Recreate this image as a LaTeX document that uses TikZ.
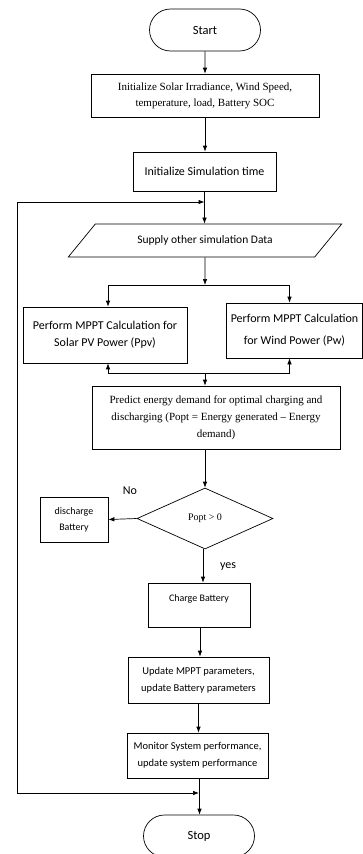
\documentclass[tikz,border=0pt]{standalone}
\usepackage{fontspec}
\setmainfont{Liberation Serif}
\newfontfamily\calfont{Carlito}
\usetikzlibrary{arrows.meta,shapes.geometric,shapes.misc,calc}

\begin{document}
\begin{tikzpicture}[x=1pt,y=-1pt,>={Latex[length=6pt,width=4.5pt]},line width=0.7pt,
  sbox/.style={draw,rectangle,align=center,inner sep=1pt,font=\calfont\fontsize{12}{17}\selectfont},
  smallbox/.style={sbox,font=\calfont\fontsize{10.5}{17}\selectfont},
  tbox/.style={draw,rectangle,align=center,inner sep=1pt,font=\fontsize{11}{17}\selectfont},
  term/.style={draw,rounded rectangle,minimum width=113,minimum height=42,inner sep=1pt,font=\calfont\fontsize{12.5}{15}\selectfont},
  lbl/.style={font=\calfont\fontsize{12}{14}\selectfont}]
\useasboundingbox (0,0) rectangle (363,854);
% terminals and process boxes
\node[term] (start) at (205,30) {Start};
\node[tbox,minimum width=228,minimum height=43,font=\fontsize{11}{16}\selectfont] (init) at (205,95.5)
  {Initialize Solar Irradiance, Wind Speed,\\temperature, load, Battery SOC};
\node[sbox,minimum width=143,minimum height=39] (simt) at (204.5,171.5) {Initialize Simulation time};
\node[draw,trapezium,trapezium left angle=35,trapezium right angle=145,trapezium stretches=true,
  minimum width=274,minimum height=33,inner sep=1pt,font=\calfont\fontsize{11.5}{14}\selectfont]
  (supply) at (205,240.5) {Supply other simulation Data};
\node[sbox,minimum width=164,minimum height=56] (pv) at (105,335)
  {Perform MPPT Calculation for\\Solar PV Power (Ppv)};
\node[sbox,minimum width=136,minimum height=55,font=\calfont\fontsize{12}{22}\selectfont] (wind) at (294.5,330.5)
  {Perform MPPT Calculation\\for Wind Power (Pw)};
\node[tbox,minimum width=248,minimum height=63] (predict) at (216,417.5)
  {Predict energy demand for optimal charging and\\discharging (Popt = Energy generated -- Energy\\demand)};
\node[draw,diamond,minimum width=136,minimum height=61,inner sep=0pt,font=\fontsize{10}{12}\selectfont]
  (dec) at (205,518.5) {Popt > 0};
\node[smallbox,minimum width=68,minimum height=45,font=\calfont\fontsize{10}{16}\selectfont] (disch) at (74,519.5)
  {discharge\\Battery};
\node[smallbox,minimum width=102,minimum height=44,font=\calfont\fontsize{10}{13}\selectfont] (charge) at (199,605)
  {Charge Battery\\\mbox{}};
\node[smallbox,minimum width=141,minimum height=46] (update) at (198.5,680)
  {Update MPPT parameters,\\update Battery parameters};
\node[smallbox,minimum width=141,minimum height=45] (monitor) at (197.5,755.5)
  {Monitor System performance,\\update system performance};
\node[term] (stop) at (199,836) {Stop};
% labels
\node[lbl] (no) at (130,491) {No};
\node[lbl] (yes) at (228,567) {yes};
% junction points
\coordinate (split) at (205,285);
\coordinate (merge) at (205,373);
\coordinate (ltop) at (17,202);
\coordinate (lbot) at (17,793);
% connectors
\draw[->] (start) -- (init);
\draw[->] (init.south) -- (init.south |- simt.north);
\draw[->] (simt.south) -- (simt.south |- supply.north);
\draw[->] (supply.south) -- (split);
\draw[->] (split) -| ($(pv.north)+(3,0)$);
\draw[->] (split) -| ($(wind.north)+(-5,0)$);
\draw[->] (merge) -| ($(pv.south)+(3,0)$);
\draw[->] (merge) -| ($(wind.south)+(-5,0)$);
\draw[->] (merge) -- (merge |- predict.north);
\draw[->] (dec.north |- predict.south) -- (dec.north);
\draw[->] (dec.west) -- (disch.east);
\draw[->] ($(dec.south)+(-2,0)$) -- ($(dec.south |- charge.north)+(-2,0)$);
\draw[->] ($(charge.south)+(1,0)$) -- ($(charge.south |- update.north)+(1,0)$);
\draw[->] (update) -- (update |- monitor.north);
\draw[->] ($(monitor.south)+(2,0)$) -- ($(monitor.south |- stop.north)+(2,0)$);
% loop back line
\draw[<->] (lbot -| stop) -- (lbot) -- (ltop) -- (ltop -| simt);
\end{tikzpicture}
\end{document}
